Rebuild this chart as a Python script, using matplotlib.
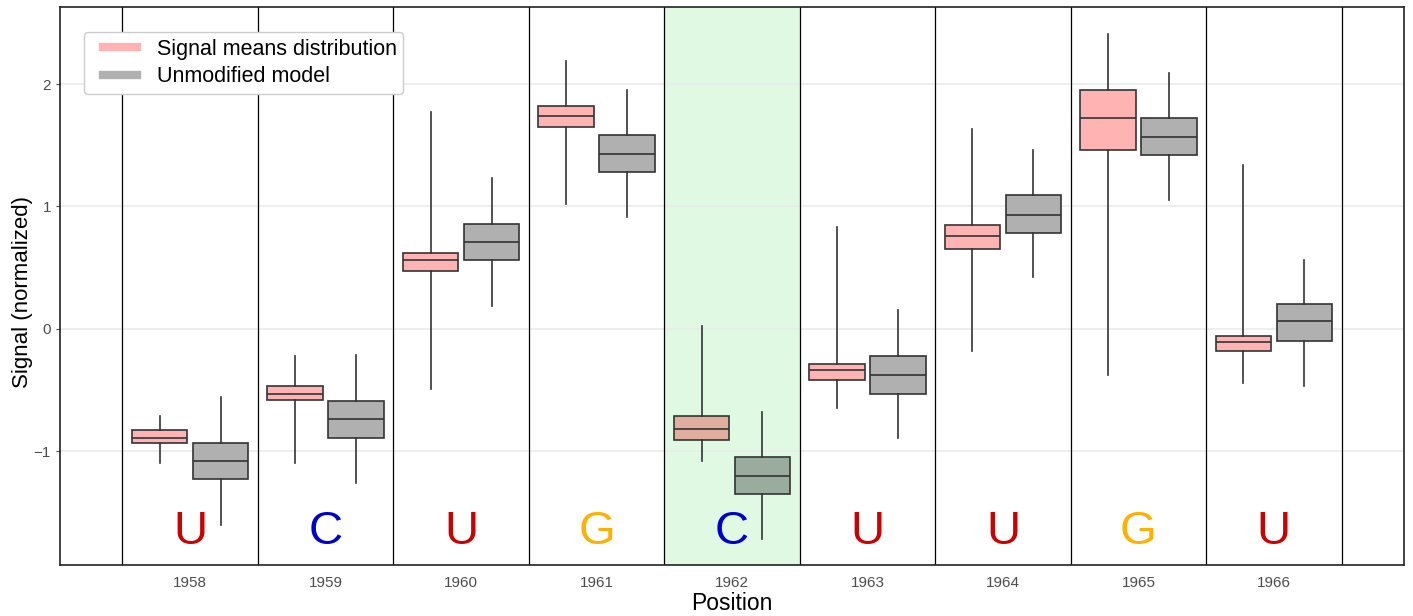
import matplotlib
matplotlib.use("Agg")
import numpy as np
import matplotlib.pyplot as plt
from matplotlib.lines import Line2D
from matplotlib.legend_handler import HandlerLine2D

plt.rcParams['font.family'] = ['Liberation Sans', 'DejaVu Sans']

# positions and bases
positions = [1958, 1959, 1960, 1961, 1962, 1963, 1964, 1965, 1966]
bases = ['U', 'C', 'U', 'G', 'C', 'U', 'U', 'G', 'U']
highlight = 1962

# signal means distribution: whislo, q1, med, q3, whishi
sig_lo  = [-1.10, -1.10, -0.49, 1.02, -1.08, -0.65, -0.18, -0.38, -0.44]
sig_q1  = [-0.93, -0.58, 0.47, 1.65, -0.91, -0.42, 0.65, 1.46, -0.18]
sig_med = [-0.89, -0.53, 0.56, 1.74, -0.82, -0.34, 0.76, 1.72, -0.11]
sig_q3  = [-0.83, -0.47, 0.62, 1.82, -0.71, -0.29, 0.85, 1.95, -0.06]
sig_hi  = [-0.71, -0.22, 1.77, 2.19, 0.02, 0.83, 1.63, 2.41, 1.34]

# unmodified model
mod_lo  = [-1.60, -1.26, 0.19, 0.91, -1.72, -0.89, 0.42, 1.05, -0.47]
mod_q1  = [-1.23, -0.89, 0.56, 1.28, -1.35, -0.53, 0.78, 1.42, -0.10]
mod_med = [-1.08, -0.74, 0.71, 1.43, -1.20, -0.38, 0.93, 1.57, 0.06]
mod_q3  = [-0.93, -0.59, 0.86, 1.58, -1.05, -0.22, 1.09, 1.72, 0.20]
mod_hi  = [-0.56, -0.21, 1.23, 1.95, -0.68, 0.15, 1.46, 2.09, 0.56]

base_colors = {'U': '#CC0000', 'C': '#0000CC', 'G': '#FFB000'}
pink = (1.0, 0.70, 0.70)
grey = (0.69, 0.69, 0.69)
shade = (0.878, 0.976, 0.890)


def mult(c1, c2):
    return tuple(a * b for a, b in zip(c1, c2))


# legend key with a little left inset
class InsetLine(HandlerLine2D):
    def get_xdata(self, legend, xdescent, ydescent, width, height, fontsize):
        xd, xm = super().get_xdata(legend, xdescent, ydescent, width, height, fontsize)
        xd = np.asarray(xd, dtype=float)
        xd[0] += 9
        xd[-1] -= 5
        return xd, xm


fig = plt.figure(figsize=(14.13, 6.16), dpi=100)
ax = fig.add_axes([60 / 1413, 51 / 616, 1344 / 1413, 558 / 616])

ax.axvspan(highlight - 0.5, highlight + 0.5, color=shade, lw=0, zorder=0)
for y in [-1, 0, 1, 2]:
    ax.axhline(y, color='#EBEBEB', lw=1.2, zorder=0.5)
for p in positions + [positions[-1] + 1]:
    ax.axvline(p - 0.5, color='black', lw=0.9, zorder=1)


def stats(lo, q1, med, q3, hi):
    return [dict(whislo=a, q1=b, med=c, q3=d, whishi=e, fliers=[])
            for a, b, c, d, e in zip(lo, q1, med, q3, hi)]


for data, off, col in [((sig_lo, sig_q1, sig_med, sig_q3, sig_hi), -0.225, pink),
                       ((mod_lo, mod_q1, mod_med, mod_q3, mod_hi), 0.225, grey)]:
    st = stats(*data)
    bp = ax.bxp(st, positions=[p + off for p in positions], widths=0.41,
                patch_artist=True, showcaps=False, manage_ticks=False,
                boxprops=dict(edgecolor='#333333', lw=1.2),
                medianprops=dict(color='#333333', lw=1.2),
                whiskerprops=dict(color='#333333', lw=1.2), zorder=2)
    for p, box in zip(positions, bp['boxes']):
        box.set_facecolor(mult(col, shade) if p == highlight else col)

for p, b in zip(positions, bases):
    ax.text(p, -1.66, b, color=base_colors[b], fontsize=34,
            ha='center', va='center', zorder=3)

ax.set_xlim(1957.04, 1966.96)
ax.set_ylim(-1.93, 2.63)
ax.set_xticks(positions)
ax.set_xticklabels([str(p) for p in positions])
ax.set_yticks([-1, 0, 1, 2])
ax.set_yticklabels(['\u22121', '0', '1', '2'])
ax.tick_params(labelsize=11, colors='#4D4D4D', length=3, width=0.8)
ax.tick_params(axis='x', length=0, pad=8)
for s in ax.spines.values():
    s.set_color('#222222')
    s.set_linewidth(1.2)
ax.set_xlabel('Position', fontsize=16.5, labelpad=1)
ax.set_ylabel('Signal (normalized)', fontsize=16)
ax.yaxis.set_label_coords(-0.020, 0.49)

handles = [Line2D([], [], color=pink, lw=6), Line2D([], [], color=grey, lw=6)]
ax.legend(handles, ['Signal means distribution', 'Unmodified model'],
          loc='upper left', bbox_to_anchor=(0.018, 0.955), borderaxespad=0,
          fontsize=15.5, handlelength=2.47, framealpha=1, edgecolor='#CCCCCC',
          borderpad=0.3, labelspacing=0.32, handletextpad=0.6, fancybox=True,
          handler_map={Line2D: InsetLine()})

fig.savefig('out.png', dpi=100)
